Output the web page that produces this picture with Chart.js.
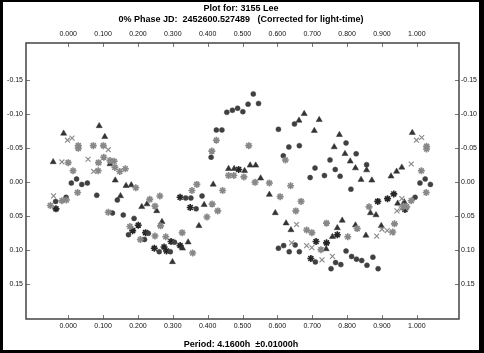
<!DOCTYPE html>
<html>
<head>
<meta charset="utf-8">
<script src="https://cdn.jsdelivr.net/npm/chart.js@4.4.1/dist/chart.umd.min.js"></script>
<style>
  html, body { margin: 0; padding: 0; background: #fff; }
</style>
</head>
<body>
<canvas id="lcChart" width="484" height="353"></canvas>
<script>
// phase / magnitude pairs, one list per symbol
const triangles = [
  [-0.043,-0.029],[-0.013,-0.071],[0.089,-0.082],[0.105,-0.066],[0.120,-0.026],[0.135,-0.002],
  [0.166,0.006],[0.181,0.005],[0.150,0.021],[0.211,0.037],[0.226,0.033],[0.254,0.043],
  [0.269,0.059],[0.299,0.118],[0.328,0.098],[0.344,0.089],[0.375,0.065],[0.390,0.034],
  [0.416,0.004],[0.460,-0.019],[0.476,-0.019],[0.506,-0.016],[0.522,-0.024],[0.538,-0.024],
  [0.552,-0.005],[0.577,0.019],[0.594,0.046],[0.625,0.061],[0.639,0.071],[0.677,-0.100],
  [0.662,-0.090],[0.720,-0.091],[0.706,-0.075],[0.778,-0.069],[0.763,-0.051],[0.794,-0.041],
  [0.809,-0.030],[0.824,-0.020],[0.856,-0.017],[0.840,-0.003],[0.871,-0.002],[0.786,0.057],
  [0.772,0.068],[0.758,0.081],[0.740,0.099],[0.824,0.064],[0.854,0.079],[0.898,0.065],
  [0.867,0.046],[0.883,0.049],[0.945,0.032],[0.964,0.030],[0.987,-0.072],[0.957,-0.021],
  [0.942,-0.015],[0.926,-0.008]
];
const circles = [
  [-0.036,0.029],[-0.006,0.023],[0.009,0.002],[0.024,-0.004],[0.039,0.004],[0.055,0.002],
  [0.082,0.020],[0.127,0.046],[0.141,0.027],[0.158,0.049],[0.189,0.054],[0.173,0.078],
  [0.219,0.085],[0.230,0.076],[0.305,0.089],[0.261,0.103],[0.293,0.103],[0.337,0.024],
  [0.352,0.024],[0.367,0.040],[0.384,0.021],[0.410,-0.036],[0.425,-0.076],[0.441,-0.076],
  [0.455,-0.102],[0.471,-0.105],[0.486,-0.108],[0.501,-0.103],[0.516,-0.114],[0.531,-0.129],
  [0.546,-0.115],[0.603,-0.077],[0.649,-0.085],[0.633,-0.051],[0.663,-0.053],[0.617,-0.038],
  [0.708,-0.020],[0.694,-0.006],[0.735,-0.009],[0.751,-0.032],[0.766,-0.018],[0.780,-0.008],
  [0.797,-0.057],[0.826,-0.041],[0.811,0.011],[0.856,-0.025],[0.603,0.098],[0.618,0.094],
  [0.634,0.103],[0.663,0.103],[0.651,0.093],[0.709,0.118],[0.754,0.128],[0.767,0.119],
  [0.782,0.122],[0.797,0.102],[0.813,0.110],[0.827,0.114],[0.842,0.116],[0.857,0.123],
  [0.874,0.111],[0.889,0.128],[0.995,0.023],[1.009,0.002],[1.024,-0.004],[1.039,0.004]
];
const grayStars = [
  [-0.051,0.035],[-0.018,0.028],[-0.005,0.027],[0.000,-0.028],[0.014,-0.016],[0.029,-0.053],
  [0.029,-0.049],[0.072,-0.053],[0.087,-0.028],[0.086,-0.016],[0.101,-0.053],[0.102,-0.036],
  [0.120,-0.031],[0.132,-0.030],[0.134,-0.021],[0.148,-0.015],[0.164,-0.019],[0.027,0.016],
  [0.115,0.045],[0.194,0.009],[0.177,0.066],[0.207,0.085],[0.234,0.026],[0.249,0.036],
  [0.263,0.021],[0.265,0.065],[0.280,0.081],[0.249,0.080],[0.327,0.075],[0.357,0.105],
  [0.355,0.013],[0.369,0.004],[0.398,0.052],[0.413,0.033],[0.429,0.043],[0.443,0.013],
  [0.412,-0.045],[0.425,-0.061],[0.460,-0.009],[0.475,-0.009],[0.504,-0.007],[0.518,-0.053],
  [0.536,0.001],[0.577,0.002],[0.608,0.022],[0.638,0.006],[0.668,0.029],[0.653,0.043],
  [0.684,0.071],[0.699,0.075],[0.741,0.061],[0.802,0.081],[0.725,0.100],[0.829,0.069],
  [0.863,0.037],[0.936,0.062],[0.931,0.074],[0.962,0.036],[0.971,0.037],[0.984,0.028],
  [1.027,0.016],[1.013,-0.016],[1.028,-0.052],[1.028,-0.048],[0.623,-0.032]
];
const crosses = [
  [-0.042,0.021],[-0.018,-0.029],[-0.002,-0.061],[0.011,-0.064],[0.057,-0.033],[0.073,-0.015],
  [0.115,-0.047],[0.655,0.063],[0.641,0.090],[0.684,0.094],[0.699,0.097],[0.728,0.115],
  [0.758,0.110],[0.885,0.080],[0.900,0.070],[0.915,0.072],[0.929,0.075],[0.943,0.043],
  [0.955,0.040],[0.957,0.025],[0.984,-0.026],[0.999,-0.061],[1.014,-0.065]
];
const darkStars = [
  [-0.035,0.040],[0.201,0.064],[0.185,0.072],[0.222,0.075],[0.295,0.088],[0.247,0.098],
  [0.275,0.096],[0.282,0.102],[0.321,0.023],[0.350,0.038],[0.321,0.094],[0.489,-0.018],
  [0.711,0.088],[0.741,0.090],[0.772,0.078],[0.696,0.113],[0.888,0.029],[0.916,0.025],
  [0.934,0.018],[0.966,0.041]
];

const xTicks = [0, 0.1, 0.2, 0.3, 0.4, 0.5, 0.6, 0.7, 0.8, 0.9, 1.0];
const yTicks = [-0.15, -0.10, -0.05, 0, 0.05, 0.10, 0.15];

const titleLines = ["Plot for: 3155 Lee", "0% Phase JD:  2452600.527489   (Corrected for light-time)"];
const footerText = "Period: 4.1600h  \u00b10.01000h";

const FONT = "'Liberation Sans', Arial, sans-serif";
const toXY = arr => arr.map(p => ({ x: p[0], y: p[1] }));

// black outer frame, plot box and inward tick marks
const framePlugin = {
  id: "frame",
  beforeDraw(chart) {
    const c = chart.ctx;
    c.save();
    c.fillStyle = "#000";
    c.fillRect(0, 0, chart.width, chart.height);
    c.fillStyle = "#fff";
    c.fillRect(3, 2, chart.width - 8, chart.height - 5);
    c.restore();
  },
  beforeDatasetsDraw(chart) {
    const c = chart.ctx;
    const a = chart.chartArea;
    const xs = chart.scales.x, ys = chart.scales.y;
    c.save();
    c.strokeStyle = "#777";
    c.lineWidth = 1;
    c.beginPath();
    xTicks.forEach(v => {
      const px = Math.round(xs.getPixelForValue(v)) + 0.5;
      c.moveTo(px, a.top); c.lineTo(px, a.top + 4);
      c.moveTo(px, a.bottom); c.lineTo(px, a.bottom - 4);
    });
    yTicks.forEach(v => {
      const py = Math.round(ys.getPixelForValue(v)) + 0.5;
      c.moveTo(a.left, py); c.lineTo(a.left + 4, py);
      c.moveTo(a.right, py); c.lineTo(a.right - 4, py);
    });
    c.stroke();
    c.strokeStyle = "#444";
    c.lineWidth = 1.5;
    c.strokeRect(a.left, a.top, a.right - a.left, a.bottom - a.top);
    c.restore();
  }
};

const tickFont = { family: FONT, size: 7 };
const setXTicks = s => { s.ticks = xTicks.map(v => ({ value: v })); };
const setYTicks = s => { s.ticks = yTicks.map(v => ({ value: v })); };

const xScale = (pos, h, pad) => ({
  type: "linear", position: pos, min: -0.121, max: 1.121,
  grid: { display: false, drawTicks: false }, border: { display: false },
  afterBuildTicks: setXTicks,
  afterFit: s => { s.height = h; },
  ticks: { font: tickFont, color: "#111", padding: pad, maxRotation: 0, autoSkip: false,
           callback: v => Number(v).toFixed(3) }
});
const yScale = (pos, w, pad) => ({
  type: "linear", position: pos, min: -0.204, max: 0.202, reverse: true,
  grid: { display: false, drawTicks: false }, border: { display: false },
  afterBuildTicks: setYTicks,
  afterFit: s => { s.width = w; },
  ticks: { font: tickFont, color: "#111", padding: pad, autoSkip: false,
           callback: v => (Math.abs(v) < 1e-9 ? 0 : Number(v)).toFixed(2) }
});

new Chart(document.getElementById("lcChart"), {
  type: "scatter",
  data: {
    datasets: [
      { label: "x", data: toXY(crosses), pointStyle: "crossRot", pointRadius: 3.5,
        borderColor: "#888", backgroundColor: "#888", borderWidth: 1.1 },
      { label: "gray", data: toXY(grayStars), pointStyle: "star", pointRadius: 3.5,
        borderColor: "#888", backgroundColor: "#888", borderWidth: 1.6 },
      { label: "tri", data: toXY(triangles), pointStyle: "triangle", pointRadius: 3.5,
        borderColor: "#333", backgroundColor: "#333", borderWidth: 0.5 },
      { label: "dot", data: toXY(circles), pointStyle: "circle", pointRadius: 2.5,
        borderColor: "#404040", backgroundColor: "#404040", borderWidth: 0.5 },
      { label: "dark", data: toXY(darkStars), pointStyle: "star", pointRadius: 3.5,
        borderColor: "#262626", backgroundColor: "#262626", borderWidth: 1.6 }
    ]
  },
  options: {
    responsive: false,
    animation: false,
    layout: { padding: { left: 3, right: 5, top: 2, bottom: 3 } },
    plugins: {
      legend: { display: false },
      tooltip: { enabled: false },
      title: { display: true, text: titleLines, color: "#000",
               font: { family: FONT, size: 9, weight: "bold", lineHeight: "11px" },
               padding: { top: 1, bottom: 0 } },
      subtitle: { display: true, position: "bottom", text: footerText, color: "#000",
                  font: { family: FONT, size: 9, weight: "bold", lineHeight: "11px" },
                  padding: { top: 0, bottom: 0 } }
    },
    scales: {
      x: xScale("bottom", 20, 3),
      x2: xScale("top", 18, 5),
      y: yScale("left", 23, 3),
      y2: yScale("right", 20, 2)
    }
  },
  plugins: [framePlugin]
});
</script>
</body>
</html>
